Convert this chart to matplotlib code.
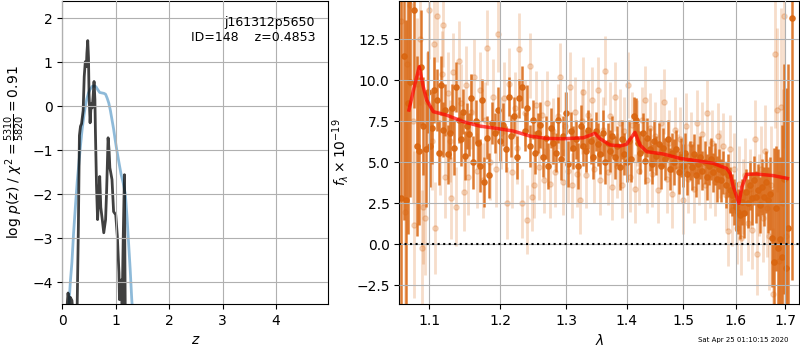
import matplotlib
matplotlib.use("Agg")
import matplotlib.pyplot as plt
import matplotlib.ticker as mtick

# ---- p(z) panel ----
z_chi = [0.12, 0.15, 0.18, 0.21, 0.245, 0.28, 0.31, 0.34, 0.37, 0.40, 0.43, 0.46,
         0.49, 0.52, 0.56, 0.60, 0.63, 0.66, 0.70, 0.74, 0.78, 0.81, 0.84, 0.87,
         0.90, 0.93, 0.96, 0.99, 1.02, 1.06, 1.10, 1.14, 1.18, 1.21, 1.24, 1.27,
         1.30, 1.33]
chi_curve = [-4.6, -4.0, -3.55, -2.9, -2.28, -1.7, -1.3, -0.9, -0.54, -0.25, -0.01, 0.17,
             0.30, 0.38, 0.45, 0.46, 0.44, 0.38, 0.31, 0.30, 0.29, 0.27, 0.18, 0.07,
             -0.1, -0.31, -0.52, -0.77, -1.0, -1.28, -1.55, -1.75, -2.0, -2.5, -3.1, -3.7,
             -4.4, -4.9]

z_pz = [0.08, 0.107, 0.13, 0.15, 0.18, 0.20, 0.26, 0.30, 0.32, 0.34, 0.36, 0.39,
        0.41, 0.43, 0.45, 0.46, 0.476, 0.49, 0.50, 0.52, 0.54, 0.56, 0.575, 0.594,
        0.61, 0.62, 0.64, 0.66, 0.68, 0.70, 0.72, 0.75, 0.776, 0.81, 0.83, 0.857,
        0.875, 0.89, 0.93, 0.96, 1.0, 1.03, 1.06, 1.07, 1.09, 1.107, 1.12, 1.14,
        1.163, 1.17, 1.18]
logpz = [-4.7, -4.25, -4.5, -4.35, -4.42, -4.7, -6.0, -2.8, -0.67, -0.46, -0.4, -0.1,
         0.67, 1.01, 0.9, 1.2, 1.49, 1.1, 0.3, -0.38, 0.05, -0.04, 0.2, 0.56,
         0.15, -0.6, -1.8, -2.58, -2.1, -1.6, -2.3, -2.6, -2.88, -2.58, -1.9, -0.72,
         -1.0, -1.4, -1.67, -2.4, -2.47, -2.96, -3.79, -4.4, -4.1, -3.95, -4.6, -3.0,
         -1.56, -3.2, -5.0]

# ---- spectrum panel ----
lam_dark = [1.062, 1.066, 1.069, 1.072, 1.075, 1.080, 1.083, 1.086, 1.089, 1.092,
            1.095, 1.098, 1.101, 1.104, 1.107, 1.110, 1.113, 1.116, 1.119, 1.122,
            1.125, 1.128, 1.131, 1.134, 1.137, 1.140, 1.143, 1.146, 1.149, 1.152,
            1.155, 1.158, 1.161, 1.164, 1.167, 1.170, 1.173, 1.176, 1.180, 1.184,
            1.188, 1.192, 1.196, 1.200, 1.204, 1.208, 1.212, 1.216, 1.220, 1.224,
            1.228, 1.232, 1.236, 1.240, 1.244, 1.248, 1.252, 1.256, 1.260, 1.264,
            1.268, 1.272, 1.276, 1.280, 1.284, 1.288, 1.292, 1.296, 1.300, 1.304,
            1.308, 1.312, 1.316, 1.320, 1.324, 1.328, 1.332, 1.336, 1.340, 1.344,
            1.348, 1.352, 1.356, 1.360, 1.364, 1.368, 1.372, 1.376, 1.380, 1.384,
            1.388, 1.392, 1.396, 1.400, 1.404, 1.408, 1.412, 1.416, 1.420, 1.424,
            1.428, 1.432, 1.436, 1.440, 1.444, 1.448, 1.452, 1.456, 1.460, 1.464,
            1.468, 1.472, 1.476, 1.480, 1.484, 1.488, 1.492, 1.496, 1.500, 1.504,
            1.508, 1.512, 1.516, 1.520, 1.524, 1.528, 1.532, 1.536, 1.540, 1.544,
            1.548, 1.552, 1.556, 1.560, 1.564, 1.568, 1.572, 1.576, 1.580, 1.584,
            1.588, 1.592, 1.596, 1.600, 1.604, 1.608, 1.612, 1.616, 1.620, 1.624,
            1.628, 1.632, 1.636, 1.640, 1.644, 1.648, 1.652, 1.656, 1.660, 1.664,
            1.668, 1.672, 1.676, 1.680, 1.684, 1.688, 1.692, 1.696, 1.702, 1.706,
            1.713]
f_dark = [2.8, 11.5, 2.7, 8.6, 9.9, 14.3, 6.0, 5.7, 10.8, 7.2,
          5.8, 9.3, 6.0, 7.1, 9.4, 8.8, 5.6, 9.7, 7.0, 8.2,
          5.5, 6.8, 8.3, 5.9, 9.6, 7.6, 6.4, 8.1, 5.4, 7.2,
          6.7, 8.9, 5.0, 7.5, 6.2, 4.8, 8.8, 3.8, 6.5, 4.2,
          7.4, 6.8, 8.2, 6.3, 7.3, 5.8, 9.0, 6.6, 7.8, 5.3,
          8.9, 9.6, 6.9, 8.3, 6.0, 7.6, 5.6, 6.8, 7.3, 5.3,
          6.5, 4.8, 7.1, 6.2, 5.6, 7.6, 5.2, 6.6, 8.0, 4.9,
          6.9, 5.9, 6.4, 4.8, 7.2, 6.0, 5.7, 7.0, 6.3, 5.3,
          6.9, 6.1, 5.5, 6.8, 5.0, 6.2, 5.7, 6.6, 5.3, 6.0,
          4.7, 6.4, 5.5, 5.0, 6.3, 5.2, 7.8, 7.6, 6.2, 5.6,
          6.8, 5.1, 6.5, 5.8, 4.9, 6.3, 5.4, 6.1, 4.8, 5.9,
          5.2, 6.4, 4.6, 5.6, 5.0, 5.8, 4.4, 5.3, 4.8, 5.6,
          4.3, 5.1, 4.7, 5.5, 4.2, 4.9, 5.3, 4.5, 5.0, 4.1,
          4.8, 5.2, 4.4, 4.9, 4.0, 4.6, 3.9, 4.4, 3.6, 4.2,
          3.3, 3.0, 2.6, 2.3, 2.0, 1.8, 2.6, 1.9, 3.2, 2.5,
          3.6, 2.8, 3.9, 2.9, 3.3, 2.4, 3.5, 2.9, 3.8, 2.7,
          3.1, 0.4, -1.1, 2.2, -0.2, 0.3, -0.75, 4.0, -1.45, 1.0,
          13.8]
e_dark = [14, 10, 11, 8, 7, 6, 5.5, 4.5, 3.5, 3.0,
          3.5, 2.5, 2.5, 2.2, 2.0, 1.9, 2.0, 1.8, 1.7, 1.6,
          1.8, 1.6, 1.5, 1.7, 1.5, 1.4, 1.6, 1.4, 1.5, 1.4,
          1.3, 1.5, 1.6, 1.3, 1.4, 1.6, 1.3, 1.5, 1.3, 1.4,
          1.3, 1.2, 1.4, 1.2, 1.3, 1.4, 1.2, 1.3, 1.2, 1.3,
          1.2, 1.3, 1.2, 1.4, 1.3, 1.2, 1.3, 1.2, 1.4, 1.2,
          1.3, 1.4, 1.2, 1.3, 1.2, 1.4, 1.3, 1.2, 1.3, 1.4,
          1.2, 1.3, 1.2, 1.4, 1.3, 1.2, 1.3, 1.2, 1.4, 1.3,
          1.2, 1.3, 1.2, 1.4, 1.3, 1.2, 1.3, 1.2, 1.3, 1.2,
          1.4, 1.2, 1.3, 1.2, 1.3, 1.4, 1.2, 1.3, 1.2, 1.3,
          1.2, 1.4, 1.2, 1.3, 1.2, 1.3, 1.2, 1.3, 1.4, 1.2,
          1.3, 1.2, 1.3, 1.2, 1.4, 1.2, 1.3, 1.2, 1.3, 1.2,
          1.3, 1.2, 1.4, 1.2, 1.3, 1.2, 1.3, 1.2, 1.3, 1.4,
          1.2, 1.3, 1.2, 1.3, 1.4, 1.2, 1.3, 1.3, 1.4, 1.3,
          1.4, 1.3, 1.4, 1.5, 1.4, 1.5, 1.4, 1.5, 1.4, 1.5,
          1.5, 1.6, 1.5, 1.6, 1.6, 1.7, 1.7, 1.8, 1.9, 2.0,
          2.2, 3.0, 7.0, 3.8, 6.0, 5.0, 8.0, 7.0, 11.0, 10.0,
          16]

lam_light = [1.063, 1.068, 1.071, 1.074, 1.078, 1.080, 1.084, 1.087, 1.090, 1.092,
             1.094, 1.097, 1.100, 1.103, 1.106, 1.108, 1.111, 1.114, 1.117, 1.119,
             1.122, 1.125, 1.128, 1.130, 1.133, 1.136, 1.140, 1.143, 1.147, 1.150,
             1.154, 1.158, 1.162, 1.166, 1.170, 1.174, 1.178, 1.181, 1.185, 1.189,
             1.193, 1.197, 1.201, 1.205, 1.209, 1.213, 1.217, 1.221, 1.225, 1.228,
             1.232, 1.236, 1.240, 1.244, 1.247, 1.250, 1.254, 1.258, 1.262, 1.266,
             1.270, 1.275, 1.279, 1.283, 1.287, 1.291, 1.295, 1.299, 1.303, 1.306,
             1.310, 1.314, 1.318, 1.322, 1.325, 1.328, 1.332, 1.336, 1.342, 1.346,
             1.352, 1.356, 1.360, 1.364, 1.368, 1.372, 1.376, 1.380, 1.384, 1.388,
             1.392, 1.396, 1.402, 1.406, 1.410, 1.414, 1.418, 1.422, 1.427, 1.432,
             1.436, 1.440, 1.445, 1.450, 1.455, 1.460, 1.465, 1.470, 1.475, 1.480,
             1.485, 1.490, 1.495, 1.500, 1.505, 1.510, 1.515, 1.520, 1.525, 1.530,
             1.535, 1.540, 1.545, 1.550, 1.555, 1.560, 1.565, 1.570, 1.575, 1.580,
             1.584, 1.588, 1.593, 1.597, 1.602, 1.606, 1.610, 1.615, 1.619, 1.623,
             1.628, 1.632, 1.637, 1.641, 1.645, 1.650, 1.654, 1.658, 1.662, 1.666,
             1.670, 1.674, 1.678, 1.682, 1.686, 1.690, 1.694, 1.698, 1.702]
f_light = [13.6, 2.0, 11.0, 14.6, 7.5, 1.2, 9.8, 12.5, -0.2, 2.3,
           1.6, 8.7, 14.3, 6.3, 12.2, 1.0, 13.9, 5.6, 10.4, 13.4,
           4.1, 9.2, 6.3, 2.8, 10.5, 2.3, 11.2, 8.6, 3.2, 9.7,
           4.1, 8.1, 10.2, 4.5, 9.4, 3.9, 7.6, 12.0, 5.0, 9.0,
           4.6, 12.8, 6.8, 8.9, 2.5, 9.8, 4.4, 8.3, 5.9, 11.9,
           2.5, 8.0, 1.5, 10.9, 2.9, 3.6, 8.5, 4.7, 7.9, 3.9,
           8.6, 3.7, 6.9, 4.4, 7.8, 10.2, 3.8, 7.2, 4.5, 9.6,
           3.6, 8.1, 4.3, 2.7, 7.5, 9.3, 4.2, 7.9, 8.8, 4.6,
           9.4, 3.9, 7.0, 10.6, 4.4, 7.8, 3.5, 9.0, 4.8, 7.4,
           3.6, 6.9, 9.7, 4.1, 7.3, 3.4, 6.8, 4.5, 7.6, 8.8,
           3.9, 7.1, 4.3, 6.6, 3.3, 7.4, 8.7, 4.0, 6.2, 3.1,
           7.0, 4.6, 6.4, 2.7, 7.2, 4.0, 6.1, 3.4, 7.4, 4.5,
           6.7, 3.6, 8.0, 4.3, 6.2, 3.8, 6.6, 4.9, 6.0, 3.0,
           0.8, 5.8, 2.1, 4.6, 1.0, 3.7, 0.4, 2.9, 4.2, 1.3,
           3.4, 0.9, 6.4, -0.6, 3.0, 4.6, 1.6, 5.7, 2.2, 0.5,
           3.6, -3.0, 11.6, 8.2, -1.0, 8.4, 2.5, 13.9, 0.5]
e_light = [6.0, 8.0, 6.0, 5.0, 5.0, 4.5, 4.0, 4.0, 3.5, 3.5,
           3.5, 3.0, 3.0, 3.0, 2.8, 2.8, 2.8, 2.6, 2.6, 2.6,
           2.5, 2.5, 2.5, 2.5, 2.4, 2.4, 2.4, 2.4, 2.4, 2.4,
           2.3, 2.3, 2.3, 2.3, 2.3, 2.3, 2.3, 2.3, 2.3, 2.3,
           2.3, 2.3, 2.2, 2.2, 2.2, 2.2, 2.2, 2.2, 2.2, 2.2,
           2.1, 2.0, 2.1, 2.0, 2.1, 2.0, 2.1, 2.0, 2.1, 2.0,
           2.0, 2.1, 2.0, 2.1, 2.0, 2.1, 2.0, 2.1, 2.0, 2.1,
           2.0, 2.1, 2.0, 2.1, 2.0, 2.1, 2.0, 2.1, 2.0, 2.1,
           2.0, 2.1, 2.0, 2.1, 2.0, 2.1, 2.0, 2.1, 2.0, 2.1,
           2.0, 2.1, 2.0, 2.1, 2.0, 2.1, 2.0, 2.1, 2.0, 2.1,
           2.0, 2.1, 2.0, 2.1, 2.0, 2.1, 2.0, 2.1, 2.0, 2.1,
           2.0, 2.1, 2.0, 2.1, 2.0, 2.1, 2.0, 2.1, 2.0, 2.1,
           2.0, 2.1, 2.0, 2.1, 2.0, 2.1, 2.0, 2.1, 2.0, 2.1,
           2.1, 2.1, 2.2, 2.2, 2.2, 2.3, 2.3, 2.3, 2.3, 2.3,
           2.4, 2.4, 2.4, 2.5, 2.5, 2.6, 2.7, 2.8, 3.0, 3.3,
           3.6, 4.0, 4.5, 5.0, 5.5, 6.0, 7.0, 8.0, 9.0]

lam_model = [1.073, 1.080, 1.0866, 1.092, 1.0965, 1.1054, 1.1236, 1.1466, 1.1702,
             1.1943, 1.2190, 1.2441, 1.2698, 1.2960, 1.328, 1.347, 1.355, 1.372,
             1.389, 1.400, 1.4144, 1.423, 1.435, 1.464, 1.4945, 1.525, 1.5565,
             1.582, 1.589, 1.595, 1.606, 1.612, 1.621, 1.641, 1.675, 1.704]
f_model = [8.19, 9.6, 10.83, 9.6, 8.8, 8.09, 7.88, 7.48, 7.21,
           7.07, 6.91, 6.6, 6.46, 6.44, 6.5, 6.77, 6.45, 6.06,
           6.0, 6.1, 6.83, 6.06, 5.65, 5.51, 5.24, 5.10, 4.94,
           4.63, 4.33, 3.51, 2.5, 3.51, 4.27, 4.29, 4.19, 4.02]

ORANGE = "#d9650f"

fig = plt.figure(figsize=(8, 3.5), dpi=100)
ax1 = fig.add_axes([0.0779, 0.1314, 0.3325, 0.8657])
ax2 = fig.add_axes([0.4991, 0.1314, 0.5, 0.8657])

ax1.plot(z_chi, chi_curve, color="tab:blue", alpha=0.5, lw=2)
ax1.plot(z_pz, logpz, color="k", alpha=0.75, lw=2)
ax1.set_xlim(0, 4.98)
ax1.set_ylim(-4.5, 2.39)
ax1.set_xticks([0, 1, 2, 3, 4])
ax1.set_yticks([-4, -3, -2, -1, 0, 1, 2])
ax1.grid(True)
ax1.set_axisbelow(False)
ax1.set_xlabel("$z$")
ax1.set_ylabel(r"log $p(z)$ / $\chi^2=\frac{5310}{5820}=0.91$")
ax1.text(0.95, 0.95, "j161312p5650\nID=148    z=0.4853", transform=ax1.transAxes,
         ha="right", va="top", fontsize=9)

ax2.errorbar(lam_light, f_light, e_light, color=ORANGE, alpha=0.22, marker="o",
             ms=3.8, linestyle="None", elinewidth=2, zorder=1)
ax2.errorbar(lam_dark, f_dark, e_dark, color=ORANGE, alpha=0.85, marker="o",
             ms=3.8, linestyle="None", elinewidth=1.8, zorder=1.2)
ax2.plot(lam_model, f_model, color="r", alpha=0.7, lw=2.5, zorder=3)
ax2.axhline(0, color="k", linestyle=":", lw=1.5, zorder=3)
ax2.set_xscale("log")
ax2.set_xlim(1.0604, 1.729)
ax2.set_ylim(-3.64, 14.84)
lam_ticks = [1.1, 1.2, 1.3, 1.4, 1.5, 1.6, 1.7]
ax2.xaxis.set_major_locator(mtick.FixedLocator(lam_ticks))
ax2.xaxis.set_major_formatter(mtick.FixedFormatter([f"{t:.1f}" for t in lam_ticks]))
ax2.xaxis.set_minor_locator(mtick.NullLocator())
ax2.set_yticks([-2.5, 0, 2.5, 5, 7.5, 10, 12.5])
ax2.grid(True)
ax2.set_axisbelow(False)
ax2.set_xlabel(r"$\lambda$")
ax2.set_ylabel(r"$f_\lambda\times10^{-19}$")

fig.text(0.985, 0.02, "Sat Apr 25 01:10:15 2020", ha="right", va="bottom", fontsize=5)

fig.savefig("out.png", dpi=100)
